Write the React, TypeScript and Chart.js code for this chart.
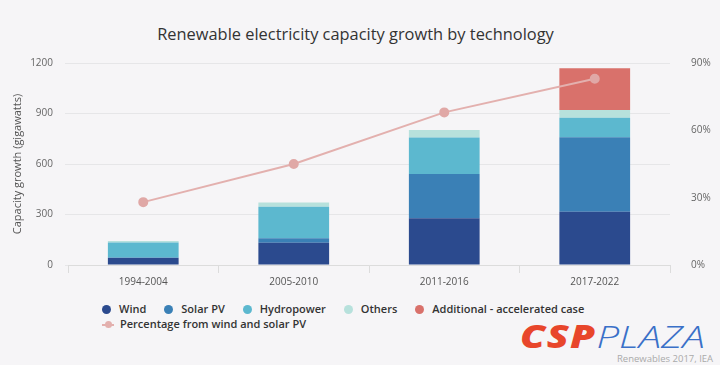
import React, { useEffect, useRef } from 'react';
import { Chart, registerables } from 'chart.js';

Chart.register(...registerables);

const categories = ['1994-2004', '2005-2010', '2011-2016', '2017-2022'];
const wind = [42, 132, 277, 317];
const solarPV = [3, 27, 263, 442];
const hydropower = [88, 187, 218, 116];
const others = [10, 26, 44, 46];
const additional = [0, 0, 0, 248];
const percentWindSolar = [28, 45, 68, 83];

const leftTicks = [0, 300, 600, 900, 1200];
const rightTicks = [0, 30, 60, 90];

const seriesNames = ['Wind', 'Solar PV', 'Hydropower', 'Others', 'Additional - accelerated case'];
const seriesColors = ['#2b4a8e', '#3a80b6', '#5cb8cf', '#b7e1dc', '#d9716b'];
const lineName = 'Percentage from wind and solar PV';
const lineColor = '#e3b0ae';

const FONT = "'Open Sans', 'Noto Sans', sans-serif";
const BG = '#f6f5f7';

export default function App() {
  const ref = useRef<HTMLCanvasElement>(null);

  useEffect(() => {
    const barSeries = [wind, solarPV, hydropower, others, additional];
    const chart = new Chart(ref.current!, {
      type: 'bar',
      data: {
        labels: categories,
        datasets: [
          {
            type: 'line',
            label: lineName,
            data: percentWindSolar,
            yAxisID: 'y1',
            borderColor: lineColor,
            backgroundColor: lineColor,
            pointBackgroundColor: '#e0a8a6',
            pointBorderColor: '#e0a8a6',
            pointRadius: 4,
            borderWidth: 2,
            tension: 0,
            order: 0,
          } as any,
          ...barSeries.map((d, i) => ({
            type: 'bar',
            label: seriesNames[i],
            data: d,
            backgroundColor: seriesColors[i],
            borderWidth: 0,
            stack: 's',
            yAxisID: 'y',
            barPercentage: 0.47,
            categoryPercentage: 1,
            order: 1,
          })),
        ],
      },
      options: {
        responsive: false,
        animation: false,
        layout: { padding: { left: 8, right: 0, top: 63, bottom: 0 } },
        plugins: {
          legend: { display: false },
          tooltip: { enabled: false },
          title: { display: false },
        },
        scales: {
          x: {
            stacked: true,
            offset: true,
            grid: { drawOnChartArea: false, tickLength: 8, color: '#dcdcdc' },
            border: { display: true, color: '#dcdcdc' },
            ticks: { color: '#555', font: { size: 10, family: FONT }, padding: 3 },
            afterFit: (s: any) => { s.height = 35; },
          },
          y: {
            stacked: true,
            position: 'left',
            min: 0,
            max: 1200,
            afterBuildTicks: (s: any) => { s.ticks = leftTicks.map((v) => ({ value: v })); },
            grid: { color: '#e6e6e8', tickLength: 3 },
            border: { display: false },
            ticks: {
              color: '#666',
              font: { size: 10, family: FONT },
              padding: 12,
              callback: (v: any) => String(v),
            },
            title: {
              display: true,
              text: 'Capacity growth (gigawatts)',
              color: '#555',
              font: { size: 11, family: FONT },
              padding: { top: 3, bottom: 0 },
            },
            afterFit: (s: any) => { s.width = 60; },
          },
          y1: {
            position: 'right',
            min: 0,
            max: 90,
            afterBuildTicks: (s: any) => { s.ticks = rightTicks.map((v) => ({ value: v })); },
            grid: { display: false },
            border: { display: false },
            ticks: {
              color: '#666',
              font: { size: 10, family: FONT },
              padding: 13,
              callback: (v: any) => v + '%',
            },
            afterFit: (s: any) => { s.width = 50; },
          },
        },
      },
    } as any);
    return () => chart.destroy();
  }, []);

  return (
    <div
      style={{
        position: 'fixed',
        left: 0,
        top: 0,
        width: 720,
        height: 365,
        background: BG,
        fontFamily: FONT,
        overflow: 'hidden',
      }}
    >
      <div
        style={{
          position: 'absolute',
          left: 0,
          top: 22,
          width: 711,
          textAlign: 'center',
          fontSize: 16.4,
          color: '#333',
          lineHeight: '24px',
        }}
      >
        Renewable electricity capacity growth by technology
      </div>
      <canvas ref={ref} width={720} height={300} style={{ position: 'absolute', left: 0, top: 0 }} />
      <div
        style={{
          position: 'absolute',
          left: 102,
          top: 301,
          display: 'flex',
          alignItems: 'center',
          fontSize: 11,
          fontWeight: 600,
          color: '#333',
          lineHeight: '16px',
        }}
      >
        {seriesNames.map((n, i) => (
          <div key={n} style={{ display: 'flex', alignItems: 'center', marginRight: 18 }}>
            <span
              style={{
                display: 'inline-block',
                width: 9,
                height: 9,
                borderRadius: '50%',
                background: seriesColors[i],
                marginRight: 8,
              }}
            />
            <span>{n}</span>
          </div>
        ))}
      </div>
      <div
        style={{
          position: 'absolute',
          left: 102,
          top: 316,
          display: 'flex',
          alignItems: 'center',
          fontSize: 11,
          fontWeight: 600,
          color: '#333',
          lineHeight: '16px',
        }}
      >
        <span style={{ position: 'relative', display: 'inline-block', width: 12, height: 9, marginRight: 6 }}>
          <span
            style={{ position: 'absolute', left: 0, top: 4, width: 12, height: 2, background: lineColor }}
          />
          <span
            style={{
              position: 'absolute',
              left: 3,
              top: 1,
              width: 7,
              height: 7,
              borderRadius: '50%',
              background: lineColor,
            }}
          />
        </span>
        <span>{lineName}</span>
      </div>
      <div
        style={{
          position: 'absolute',
          left: 520,
          top: 319,
          fontSize: 31,
          lineHeight: '34px',
          fontStyle: 'italic',
          whiteSpace: 'nowrap',
          transform: 'scaleX(1.3)',
          transformOrigin: 'left top',
        }}
      >
        <span style={{ color: '#e8462b', fontWeight: 900, letterSpacing: 1 }}>CSP</span>
        <span style={{ color: '#3a70c8', fontWeight: 300 }}>PLAZA</span>
      </div>
      <div
        style={{
          position: 'absolute',
          left: 617,
          top: 352,
          fontSize: 9.5,
          color: '#aaa',
          whiteSpace: 'nowrap',
        }}
      >
        Renewables 2017, IEA
      </div>
    </div>
  );
}
